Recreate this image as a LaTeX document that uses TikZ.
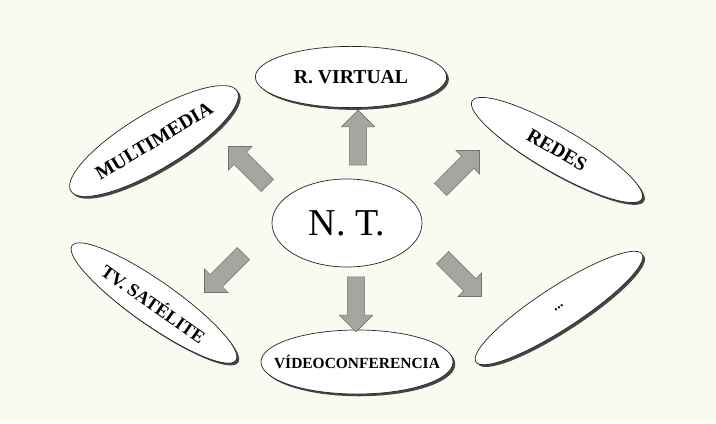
\documentclass[tikz,border=0pt]{standalone}
\usepackage{fontspec}
\setmainfont{Liberation Serif}
\usetikzlibrary{shapes.geometric}
\usetikzlibrary{shapes.arrows}
\usetikzlibrary{shadows}
\definecolor{papel}{RGB}{250,250,241}
\definecolor{grisflecha}{RGB}{166,166,160}
\tikzset{elip/.style={draw=black!85, ellipse, fill=white, inner sep=0pt, line width=0.5pt}}
\tikzset{elipsombra/.style={elip, drop shadow={shadow xshift=1.6pt, shadow yshift=-1.6pt, fill=black!85, opacity=0.85}}}
\tikzset{lbl/.style={font=\fontsize{14}{16}\selectfont\bfseries}}
\tikzset{flecha/.style={single arrow, draw=black!55, fill=grisflecha, inner sep=0.21cm, single arrow head extend=0.2cm, minimum height=1.375cm}}
\newcommand{\etq}[1]{\makebox[0pt]{#1}}

\begin{document}
\begin{tikzpicture}[x=0.025cm, y=0.025cm]
\fill[papel] (0,0) rectangle (716,423);

\node (nt) [elip, minimum width=3.75cm, minimum height=2.2cm, font=\fontsize{27}{30}\selectfont] at (347,200) {\etq{N. T.}};
\node (rv) [elipsombra, lbl, minimum width=4.78cm, minimum height=1.53cm] at (351,346) {\etq{R. VIRTUAL}};
\node (mm) [elipsombra, lbl, minimum width=4.85cm, minimum height=1.4cm, rotate=31] at (154,282) {\etq{MULTIMEDIA}};
\node (red) [elipsombra, lbl, minimum width=4.9cm, minimum height=1.1cm, rotate=-30] at (557,273) {\etq{REDES}};
\node (tv) [elipsombra, lbl, font=\fontsize{13}{15}\selectfont\bfseries, minimum width=5cm, minimum height=1.1cm, rotate=-35] at (154,120) {\etq{TV. SATÉLITE}};
\node (vc) [elipsombra, lbl, font=\fontsize{11}{13}\selectfont\bfseries, minimum width=4.8cm, minimum height=1.6cm] at (357,61) {\etq{VÍDEOCONFERENCIA}};
\node (otros) [elipsombra, lbl, font=\fontsize{10}{12}\selectfont\bfseries, minimum width=4.95cm, minimum height=1.05cm, rotate=33] at (559,115) {\etq{...}};

\node (f1) [flecha, rotate=90] at (358,281) {};
\node (f2) [flecha, rotate=135] at (251,254) {};
\node (f3) [flecha, rotate=45] at (457,250) {};
\node (f4) [flecha, rotate=225] at (227,153) {};
\node (f5) [flecha, rotate=-90] at (356,123) {};
\node (f6) [flecha, rotate=-45] at (459,149) {};
\end{tikzpicture}
\end{document}
